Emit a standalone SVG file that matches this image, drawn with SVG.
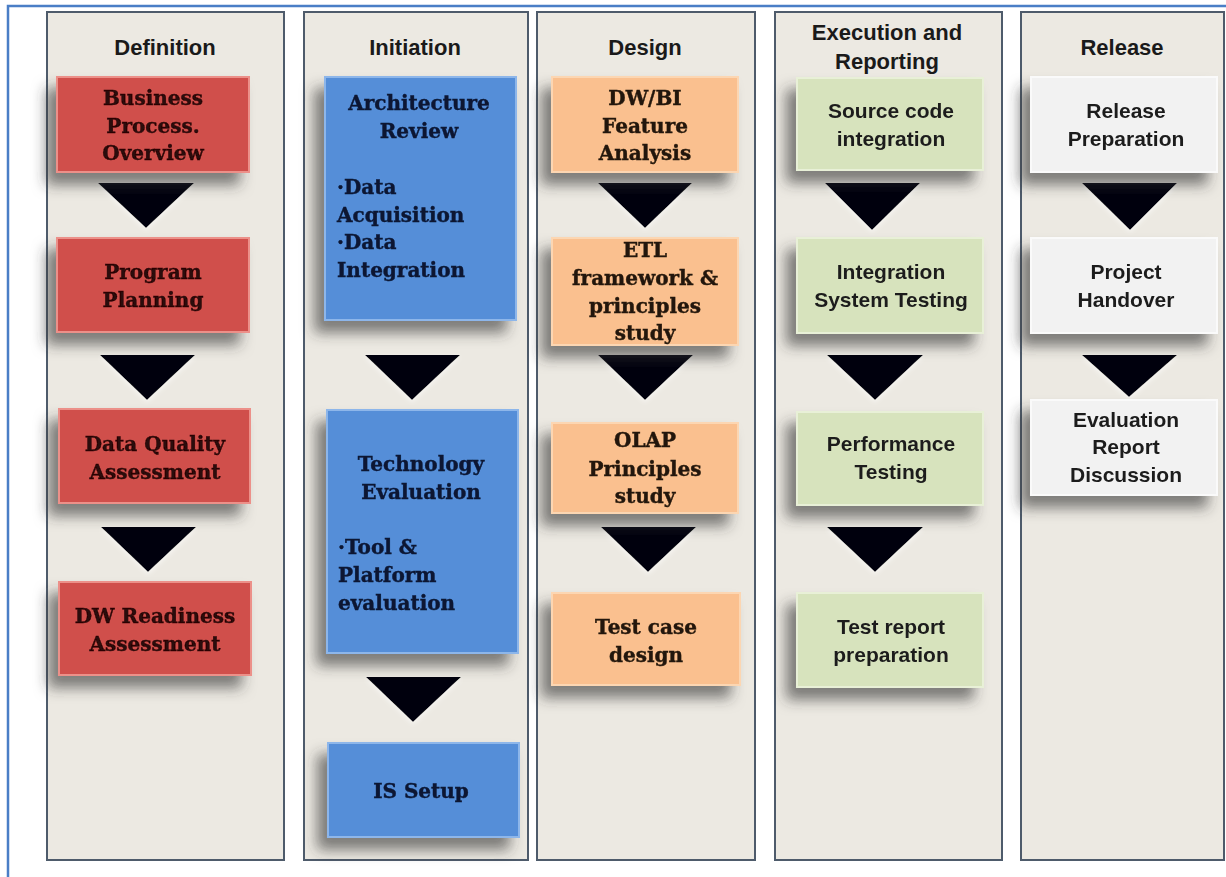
<svg xmlns="http://www.w3.org/2000/svg" width="1226" height="877" viewBox="0 0 1226 877">
  <defs>
    <filter id="shadow" x="-30%" y="-30%" width="160%" height="170%">
      <feDropShadow dx="-10" dy="12" stdDeviation="7" flood-color="#363636" flood-opacity="0.6"/>
    </filter>
    <filter id="soft" x="-20%" y="-20%" width="140%" height="150%">
      <feGaussianBlur in="SourceAlpha" stdDeviation="2.5"/>
      <feOffset dx="0" dy="2" result="b"/>
      <feFlood flood-color="#ffffff" flood-opacity="0.6"/>
      <feComposite in2="b" operator="in" result="g"/>
      <feMerge><feMergeNode in="g"/><feMergeNode in="SourceGraphic"/></feMerge>
    </filter>
    <style>
      .panel { fill: #ECE9E2; stroke: #4E5B6B; stroke-width: 2; }
      .head { font-family: "Liberation Sans", Arial, sans-serif; font-weight: bold; font-size: 22px; fill: #1a1a1a; text-anchor: middle; }
      .red { fill: #D0504C; stroke: #EC9089; stroke-width: 2; }
      .blue { fill: #558ED8; stroke: #8DB6EA; stroke-width: 2; }
      .orange { fill: #FAC08F; stroke: #FCD6B2; stroke-width: 2; }
      .green { fill: #D7E3BD; stroke: #E8F0D7; stroke-width: 2; }
      .white { fill: #F2F2F2; stroke: #FAFAFA; stroke-width: 2; }
      .serif { font-family: "DejaVu Serif", "Liberation Serif", serif; font-weight: bold; font-size: 20px; stroke-width: 0.4; }
      .sans { font-family: "Liberation Sans", Arial, sans-serif; font-weight: bold; font-size: 21px; fill: #1c1c1c; }
      .mid { text-anchor: middle; }
      .tr { fill: #2a0707; stroke: #2a0707; }
      .tb { fill: #0a1633; stroke: #0a1633; }
      .to { fill: #22160a; stroke: #22160a; }
      .arrow { fill: #05060d; }
    </style>
  </defs>

  <!-- page background and frame -->
  <rect x="0" y="0" width="1226" height="877" fill="#ffffff"/>
  <path d="M8 877 V6 H1226" fill="none" stroke="#4A7EC6" stroke-width="2.5"/>

  <!-- phase panels -->
  <g id="panels">
    <rect class="panel" x="47" y="12" width="237" height="848"/>
    <rect class="panel" x="304" y="12" width="224" height="848"/>
    <rect class="panel" x="537" y="12" width="218" height="848"/>
    <rect class="panel" x="775" y="12" width="227" height="848"/>
    <rect class="panel" x="1021" y="12" width="203" height="848"/>
    <text class="head" x="165" y="55">Definition</text>
    <text class="head" x="415" y="55">Initiation</text>
    <text class="head" x="645" y="55">Design</text>
    <text class="head" x="887" y="40">Execution and</text>
    <text class="head" x="887" y="69">Reporting</text>
    <text class="head" x="1122" y="55">Release</text>
  </g>

  <!-- flow arrows between steps -->
  <g id="connectors" filter="url(#soft)">
    <polygon class="arrow" points="98,183 194,183 146,228"/>
    <polygon class="arrow" points="100,355 195,355 147,400"/>
    <polygon class="arrow" points="101,527 196,527 148,572"/>

    <polygon class="arrow" points="365,355 460,355 412,400"/>
    <polygon class="arrow" points="366,677 461,677 413,722"/>

    <polygon class="arrow" points="598,183 692,183 645,228"/>
    <polygon class="arrow" points="598,355 693,355 645,400"/>
    <polygon class="arrow" points="601,527 696,527 648,572"/>

    <polygon class="arrow" points="825,183 920,183 872,230"/>
    <polygon class="arrow" points="827,355 923,355 875,400"/>
    <polygon class="arrow" points="827,527 923,527 875,572"/>

    <polygon class="arrow" points="1082,183 1177,183 1130,230"/>
    <polygon class="arrow" points="1082,355 1177,355 1129,397"/>
  </g>

  <!-- Definition -->
  <g id="business-process-overview" filter="url(#shadow)">
    <rect class="red" x="57" y="77" width="192" height="95"/>
    <text class="serif tr mid" x="153" y="105">Business</text>
    <text class="serif tr mid" x="153" y="133">Process.</text>
    <text class="serif tr mid" x="153" y="160">Overview</text>
  </g>
  <g id="program-planning" filter="url(#shadow)">
    <rect class="red" x="57" y="238" width="192" height="94"/>
    <text class="serif tr mid" x="153" y="279">Program</text>
    <text class="serif tr mid" x="153" y="307">Planning</text>
  </g>
  <g id="data-quality-assessment" filter="url(#shadow)">
    <rect class="red" x="59" y="409" width="191" height="94"/>
    <text class="serif tr mid" x="155" y="451">Data Quality</text>
    <text class="serif tr mid" x="155" y="479">Assessment</text>
  </g>
  <g id="dw-readiness-assessment" filter="url(#shadow)">
    <rect class="red" x="59" y="582" width="192" height="93"/>
    <text class="serif tr mid" x="155" y="623">DW Readiness</text>
    <text class="serif tr mid" x="155" y="651">Assessment</text>
  </g>

  <!-- Initiation -->
  <g id="architecture-review" filter="url(#shadow)">
    <rect class="blue" x="325" y="77" width="191" height="243"/>
    <text class="serif tb mid" x="419" y="110">Architecture</text>
    <text class="serif tb mid" x="419" y="138">Review</text>
    <text class="serif tb" x="337" y="194">·Data</text>
    <text class="serif tb" x="337" y="222">Acquisition</text>
    <text class="serif tb" x="337" y="249">·Data</text>
    <text class="serif tb" x="337" y="277">Integration</text>
  </g>
  <g id="technology-evaluation" filter="url(#shadow)">
    <rect class="blue" x="327" y="410" width="191" height="243"/>
    <text class="serif tb mid" x="421" y="471">Technology</text>
    <text class="serif tb mid" x="421" y="499">Evaluation</text>
    <text class="serif tb" x="338" y="554">·Tool &amp;</text>
    <text class="serif tb" x="338" y="582">Platform</text>
    <text class="serif tb" x="338" y="610">evaluation</text>
  </g>
  <g id="is-setup" filter="url(#shadow)">
    <rect class="blue" x="328" y="743" width="191" height="94"/>
    <text class="serif tb mid" x="421" y="798">IS Setup</text>
  </g>

  <!-- Design -->
  <g id="feature-analysis" filter="url(#shadow)">
    <rect class="orange" x="552" y="77" width="186" height="95"/>
    <text class="serif to mid" x="645" y="105">DW/BI</text>
    <text class="serif to mid" x="645" y="133">Feature</text>
    <text class="serif to mid" x="645" y="160">Analysis</text>
  </g>
  <g id="etl-framework" filter="url(#shadow)">
    <rect class="orange" x="552" y="238" width="186" height="107"/>
    <text class="serif to mid" x="645" y="257">ETL</text>
    <text class="serif to mid" x="645" y="285">framework &amp;</text>
    <text class="serif to mid" x="645" y="313">principles</text>
    <text class="serif to mid" x="645" y="340">study</text>
  </g>
  <g id="olap-principles" filter="url(#shadow)">
    <rect class="orange" x="552" y="423" width="186" height="90"/>
    <text class="serif to mid" x="645" y="447">OLAP</text>
    <text class="serif to mid" x="645" y="476">Principles</text>
    <text class="serif to mid" x="645" y="503">study</text>
  </g>
  <g id="test-case-design" filter="url(#shadow)">
    <rect class="orange" x="552" y="593" width="188" height="92"/>
    <text class="serif to mid" x="646" y="634">Test case</text>
    <text class="serif to mid" x="646" y="662">design</text>
  </g>

  <!-- Execution and Reporting -->
  <g id="source-code-integration" filter="url(#shadow)">
    <rect class="green" x="797" y="78" width="186" height="92"/>
    <text class="sans mid" x="891" y="118">Source code</text>
    <text class="sans mid" x="891" y="146">integration</text>
  </g>
  <g id="integration-system-testing" filter="url(#shadow)">
    <rect class="green" x="797" y="238" width="186" height="95"/>
    <text class="sans mid" x="891" y="279">Integration</text>
    <text class="sans mid" x="891" y="307">System Testing</text>
  </g>
  <g id="performance-testing" filter="url(#shadow)">
    <rect class="green" x="797" y="412" width="186" height="93"/>
    <text class="sans mid" x="891" y="451">Performance</text>
    <text class="sans mid" x="891" y="479">Testing</text>
  </g>
  <g id="test-report-preparation" filter="url(#shadow)">
    <rect class="green" x="797" y="593" width="186" height="94"/>
    <text class="sans mid" x="891" y="634">Test report</text>
    <text class="sans mid" x="891" y="662">preparation</text>
  </g>

  <!-- Release -->
  <g id="release-preparation" filter="url(#shadow)">
    <rect class="white" x="1031" y="77" width="186" height="95"/>
    <text class="sans mid" x="1126" y="118">Release</text>
    <text class="sans mid" x="1126" y="146">Preparation</text>
  </g>
  <g id="project-handover" filter="url(#shadow)">
    <rect class="white" x="1031" y="238" width="186" height="95"/>
    <text class="sans mid" x="1126" y="279">Project</text>
    <text class="sans mid" x="1126" y="307">Handover</text>
  </g>
  <g id="evaluation-report-discussion" filter="url(#shadow)">
    <rect class="white" x="1031" y="400" width="186" height="95"/>
    <text class="sans mid" x="1126" y="427">Evaluation</text>
    <text class="sans mid" x="1126" y="454">Report</text>
    <text class="sans mid" x="1126" y="482">Discussion</text>
  </g>
</svg>
